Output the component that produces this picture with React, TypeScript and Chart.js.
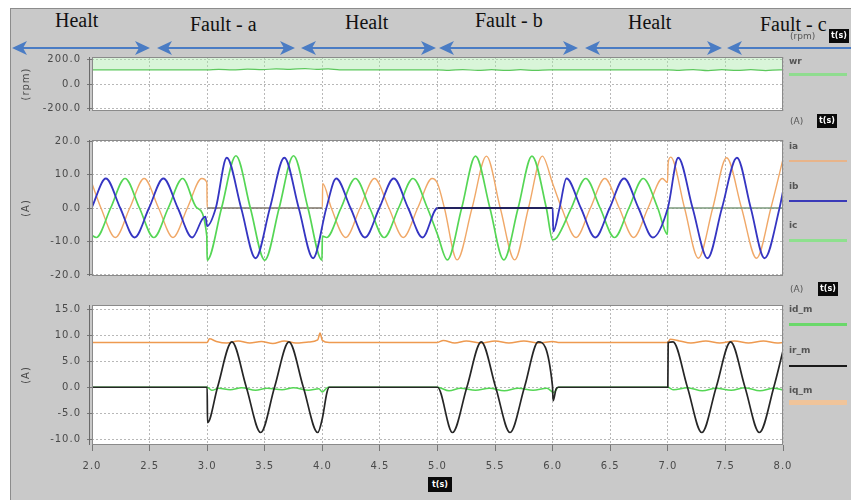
import React, { useEffect, useRef } from "react";
import { Chart, registerables } from "chart.js";

Chart.register(...registerables);

type Pt = [number, number];

// ---------------- data ----------------
const X_MIN = 2.0;
const X_MAX = 8.0;
const X_STEP = 0.5;

const sectionLabels = ["Healt", "Fault - a", "Healt", "Fault - b", "Healt", "Fault - c"];

const wrTicks = [-200, 0, 200];
const iabcTicks = [-20, -10, 0, 10, 20];
const dqTicks = [-10, -5, 0, 5, 10, 15];

// rotor speed (rpm)
const wr: Pt[] = [
  [2.0, 114], [3.0, 114], [3.1, 117], [3.22, 113], [3.35, 119], [3.48, 116], [3.6, 121], [3.72, 118],
  [3.85, 124], [3.95, 117], [4.05, 121], [4.15, 114], [5.0, 114], [5.1, 110], [5.22, 116], [5.35, 109],
  [5.47, 115], [5.6, 109], [5.72, 115], [5.85, 109], [5.97, 114], [7.0, 114], [7.1, 110], [7.22, 116],
  [7.35, 108], [7.47, 115], [7.6, 109], [7.72, 115], [7.85, 108], [7.97, 114], [8.0, 113],
];

// phase currents (A)
const ia: Pt[] = [
  [2.0, 7.3], [2.078, 0], [2.203, -8.8], [2.328, 0], [2.453, 8.8], [2.578, 0], [2.703, -8.8], [2.828, 0],
  [2.953, 8.8], [2.997, 7.6], [3.0, 0], [4.0, 0], [4.003, 7.3], [4.078, 0], [4.203, -8.8], [4.328, 0],
  [4.453, 8.8], [4.578, 0], [4.703, -8.8], [4.828, 0], [4.953, 8.8], [5.0, 7.3], [5.06, 0], [5.17, -15.5],
  [5.3, 0], [5.425, 15.5], [5.545, 0], [5.67, -15.5], [5.79, 0], [5.91, 15.5], [6.0, 7.3], [6.078, 0],
  [6.203, -8.8], [6.328, 0], [6.453, 8.8], [6.578, 0], [6.703, -8.8], [6.828, 0], [6.953, 8.8], [6.997, 7.6],
  [7.003, 13.5], [7.025, 15.2], [7.145, 0], [7.265, -15.0], [7.39, 0], [7.51, 15.0], [7.64, 0], [7.77, -15.0],
  [7.895, 0], [8.0, 14.6],
];

const ib: Pt[] = [
  [2.0, 0.3], [2.12, 8.8], [2.245, 0], [2.37, -8.8], [2.495, 0], [2.62, 8.8], [2.745, 0], [2.87, -8.8],
  [2.96, -3.2], [2.985, -2.6], [3.0, -5.4], [3.075, 0], [3.17, 15.0], [3.295, 0], [3.42, -15.0], [3.545, 0],
  [3.67, 15.0], [3.795, 0], [3.92, -15.0], [4.035, 0], [4.12, 8.8], [4.245, 0], [4.37, -8.8], [4.495, 0],
  [4.62, 8.8], [4.745, 0], [4.87, -8.8], [5.0, 0], [6.0, 0], [6.005, -7.0], [6.06, 0], [6.12, 8.8],
  [6.245, 0], [6.37, -8.8], [6.495, 0], [6.62, 8.8], [6.745, 0], [6.87, -8.8], [7.0, 0], [7.09, 15.0],
  [7.215, 0], [7.345, -15.0], [7.47, 0], [7.6, 15.0], [7.72, 0], [7.84, -15.0], [7.97, 0], [8.0, 5.0],
];

const ic: Pt[] = [
  [2.0, -8.2], [2.037, -8.8], [2.162, 0], [2.287, 8.8], [2.412, 0], [2.537, -8.8], [2.662, 0], [2.787, 8.8],
  [2.912, 0], [2.997, -8.4], [3.0, -15.6], [3.125, 0], [3.25, 15.6], [3.375, 0], [3.5, -15.6], [3.625, 0],
  [3.75, 15.6], [3.875, 0], [3.997, -15.6], [4.0, -8.4], [4.037, -8.8], [4.162, 0], [4.287, 8.8], [4.412, 0],
  [4.537, -8.8], [4.662, 0], [4.787, 8.8], [4.912, 0], [5.0, -7.9], [5.085, -15.5], [5.21, 0], [5.33, 15.5],
  [5.455, 0], [5.575, -15.5], [5.7, 0], [5.82, 15.5], [5.945, 0], [6.0, -9.5], [6.037, -8.8], [6.162, 0],
  [6.287, 8.8], [6.412, 0], [6.537, -8.8], [6.662, 0], [6.787, 8.8], [6.912, 0], [6.997, -7.9], [7.0, 0],
  [8.0, 0],
];

// d/q / residual currents (A)
const idm: Pt[] = [
  [2.0, 0], [3.0, 0], [3.04, -0.6], [3.1, -0.2], [3.2, -0.5], [3.3, -0.1], [3.42, -0.6], [3.52, -0.2],
  [3.65, -0.5], [3.75, -0.1], [3.88, -0.6], [3.97, -0.3], [4.0, -0.9], [4.05, 0], [5.0, 0], [5.1, -0.7],
  [5.2, -0.2], [5.33, -0.6], [5.45, -0.2], [5.58, -0.7], [5.7, -0.2], [5.83, -0.6], [5.95, -0.2], [6.01, -1.0],
  [6.05, 0], [7.0, 0], [7.05, -0.5], [7.17, -0.1], [7.3, -0.7], [7.42, -0.2], [7.55, -0.6], [7.67, -0.1],
  [7.8, -0.7], [7.92, -0.2], [8.0, -0.5],
];

const irm: Pt[] = [
  [2.0, 0], [3.0, 0], [3.003, -6.8], [3.09, 0], [3.215, 8.7], [3.34, 0], [3.465, -8.7], [3.585, 0],
  [3.71, 8.7], [3.835, 0], [3.96, -8.7], [4.0, -6.0], [4.04, -1.0], [4.06, 0], [5.0, 0], [5.13, -8.7],
  [5.255, 0], [5.38, 8.7], [5.505, 0], [5.63, -8.7], [5.755, 0], [5.875, 8.7], [5.998, 0.3], [6.004, -2.6],
  [6.03, -0.3], [6.05, 0], [7.0, 0], [7.003, 8.6], [7.045, 8.7], [7.17, 0], [7.295, -8.7], [7.42, 0],
  [7.545, 8.7], [7.67, 0], [7.795, -8.7], [7.92, 0], [8.0, 7.0],
];

const iqm: Pt[] = [
  [2.0, 8.6], [3.0, 8.6], [3.02, 9.3], [3.08, 8.8], [3.17, 8.5], [3.27, 8.9], [3.37, 8.5], [3.47, 8.8],
  [3.57, 8.4], [3.67, 8.9], [3.77, 8.5], [3.88, 8.7], [3.96, 9.1], [3.98, 10.4], [4.0, 9.0], [4.06, 8.6],
  [5.0, 8.6], [5.05, 9.0], [5.15, 8.5], [5.25, 8.9], [5.38, 8.5], [5.5, 8.9], [5.62, 8.5], [5.75, 8.9],
  [5.88, 8.5], [6.0, 8.8], [6.06, 8.6], [7.0, 8.6], [7.02, 9.2], [7.1, 8.9], [7.2, 8.5], [7.33, 8.9],
  [7.45, 8.5], [7.58, 8.9], [7.7, 8.5], [7.83, 8.9], [7.95, 8.5], [8.0, 8.6],
];

// ---------------- styling / layout ----------------
const C_ORANGE = "#f0a868";
const C_BLUE = "#3535c2";
const C_GREEN = "#55d655";
const C_BLACK = "#262626";
const TICK_FONT = { family: "'DejaVu Sans', sans-serif", size: 10 };

const toXY = (p: Pt[]) => p.map(([x, y]) => ({ x, y }));

const zeroSeg = (dark: string) => ({
  borderColor: (c: any) => (c.p0.parsed.y === 0 && c.p1.parsed.y === 0 ? dark : undefined),
});

const panelPlugin = {
  id: "panelBg",
  beforeDraw(chart: any) {
    const { ctx, chartArea: a } = chart;
    try {
      (ctx as any).letterSpacing = "1px";
    } catch (e) {}
    ctx.save();
    ctx.fillStyle = "#ffffff";
    ctx.fillRect(a.left, a.top, a.right - a.left, a.bottom - a.top);
    ctx.restore();
  },
  afterDraw(chart: any) {
    const { ctx, chartArea: a } = chart;
    ctx.save();
    ctx.strokeStyle = "#8a8a8a";
    ctx.lineWidth = 1;
    ctx.strokeRect(a.left + 0.5, a.top + 0.5, a.right - a.left - 1, a.bottom - a.top - 1);
    ctx.strokeStyle = "#6a6a6a";
    ctx.beginPath();
    ctx.moveTo(a.left - 2.5, a.top);
    ctx.lineTo(a.left - 2.5, a.bottom);
    ctx.stroke();
    ctx.restore();
  },
};

interface PanelSpec {
  top: number;
  height: number;
  padTop: number;
  padBottom: number;
  yMin: number;
  yMax: number;
  yTicks: number[];
  yTitle: string;
  showX: boolean;
  datasets: any[];
}

function PanelChart({ spec }: { spec: PanelSpec }) {
  const ref = useRef<HTMLCanvasElement>(null);
  useEffect(() => {
    if (!ref.current) return;
    const chart = new Chart(ref.current, {
      type: "line",
      data: { datasets: spec.datasets },
      options: {
        animation: false,
        responsive: false,
        maintainAspectRatio: false,
        layout: { padding: { top: spec.padTop, bottom: spec.padBottom, left: 0, right: 68 } },
        plugins: { legend: { display: false }, tooltip: { enabled: false } },
        elements: { point: { radius: 0 }, line: { cubicInterpolationMode: "monotone" } },
        scales: {
          x: {
            type: "linear",
            min: X_MIN,
            max: X_MAX,
            ticks: {
              stepSize: X_STEP,
              display: spec.showX,
              autoSkip: false,
              maxRotation: 0,
              padding: 9,
              color: "#4a4a4a",
              font: TICK_FONT,
              callback: (v: any) => Number(v).toFixed(1),
            },
            grid: {
              color: "#b8b8b8",
              tickColor: "#777",
              drawTicks: spec.showX,
              tickLength: spec.showX ? 6 : 0,
            },
            border: { display: false, dash: [2, 2] },
            afterFit: (a: any) => {
              a.height = spec.showX ? 40 : 0;
            },
          },
          y: {
            min: spec.yMin,
            max: spec.yMax,
            afterBuildTicks: (a: any) => {
              a.ticks = spec.yTicks.map((v) => ({ value: v }));
            },
            ticks: {
              color: "#4a4a4a",
              font: TICK_FONT,
              padding: 6,
              callback: (v: any) => Number(v).toFixed(1),
            },
            grid: { color: "#b8b8b8", tickColor: "#777", tickLength: 5 },
            border: { display: false, dash: [2, 2] },
            title: {
              display: true,
              text: spec.yTitle,
              color: "#4a4a4a",
              font: { family: "'DejaVu Sans', sans-serif", size: 10 },
              padding: { top: 10, bottom: 0 },
            },
            afterFit: (a: any) => {
              a.width = 82;
            },
          },
        },
      } as any,
      plugins: [panelPlugin],
    });
    return () => chart.destroy();
  }, []);
  return (
    <canvas
      ref={ref}
      width={841}
      height={spec.height}
      style={{ position: "absolute", left: 10, top: spec.top, width: 841, height: spec.height }}
    />
  );
}

const lineDs = (label: string, pts: Pt[], color: string, width: number, order: number, extra: any = {}) => ({
  label,
  data: toXY(pts),
  borderColor: color,
  backgroundColor: color,
  borderWidth: width,
  pointRadius: 0,
  fill: false,
  order,
  ...extra,
});

const topSpec: PanelSpec = {
  top: 45,
  height: 78,
  padTop: 8,
  padBottom: 8,
  yMin: -217,
  yMax: 217,
  yTicks: wrTicks,
  yTitle: "(rpm)",
  showX: false,
  datasets: [
    lineDs("wr", wr, "#5cc85c", 1.2, 0, { fill: "end", backgroundColor: "rgba(170,232,170,0.45)" }),
  ],
};

const midSpec: PanelSpec = {
  top: 128,
  height: 160,
  padTop: 9,
  padBottom: 9,
  yMin: -20.3,
  yMax: 20.3,
  yTicks: iabcTicks,
  yTitle: "(A)",
  showX: false,
  datasets: [
    lineDs("ia", ia, C_ORANGE, 1.4, 2, { segment: zeroSeg("#7d7468") }),
    lineDs("ib", ib, C_BLUE, 1.8, 0, { segment: zeroSeg("#22225e") }),
    lineDs("ic", ic, C_GREEN, 1.7, 1, { segment: zeroSeg("#7c9a7c") }),
  ],
};

const botSpec: PanelSpec = {
  top: 293,
  height: 192,
  padTop: 9,
  padBottom: 0,
  yMin: -11.1,
  yMax: 15.8,
  yTicks: dqTicks,
  yTitle: "(A)",
  showX: true,
  datasets: [
    lineDs("id_m", idm, C_GREEN, 1.5, 1),
    lineDs("ir_m", irm, C_BLACK, 1.7, 0),
    lineDs("iq_m", iqm, "#ee9a50", 1.5, 2),
  ],
};

// header layout (positions only)
const headerPos = [
  { left: 55, top: 10 },
  { left: 190, top: 14 },
  { left: 345, top: 12 },
  { left: 475, top: 10 },
  { left: 628, top: 12 },
  { left: 760, top: 14 },
];
const arrowSpans: { x1: number; x2: number; right: boolean }[] = [
  { x1: 12, x2: 150, right: true },
  { x1: 157, x2: 295, right: true },
  { x1: 301, x2: 436, right: true },
  { x1: 439, x2: 578, right: true },
  { x1: 585, x2: 722, right: true },
  { x1: 727, x2: 860, right: false },
];
const ARROW_Y = 48;
const ARROW_COLOR = "#4a7cc4";

const legendItems = [
  { label: "wr", color: "#8fdc8f", textTop: 56, lineTop: 74, w: 3 },
  { label: "ia", color: "#e8b48a", textTop: 141, lineTop: 161, w: 2 },
  { label: "ib", color: "#3a3ab8", textTop: 181, lineTop: 201, w: 2 },
  { label: "ic", color: "#8ee08e", textTop: 220, lineTop: 240, w: 3 },
  { label: "id_m", color: "#6ad86a", textTop: 304, lineTop: 324, w: 3 },
  { label: "ir_m", color: "#1a1a1a", textTop: 345, lineTop: 366, w: 2 },
  { label: "iq_m", color: "#f0c49a", textTop: 385, lineTop: 402, w: 5 },
];

const unitRows = [
  { unit: "(rpm)", textLeft: 790, top: 31, boxLeft: 829 },
  { unit: "(A)", textLeft: 790, top: 116, boxLeft: 817 },
  { unit: "(A)", textLeft: 790, top: 284, boxLeft: 818 },
];

const smallFont = "'DejaVu Sans', sans-serif";

function Box({ left, top, w, h, text }: { left: number; top: number; w: number; h: number; text: string }) {
  return (
    <div
      style={{
        position: "absolute",
        left,
        top,
        width: w,
        height: h,
        background: "#0a0a0a",
        color: "#fff",
        fontFamily: smallFont,
        fontSize: 8,
        fontWeight: "bold",
        lineHeight: h + "px",
        textAlign: "center",
      }}
    >
      {text}
    </div>
  );
}

export default function App() {
  return (
    <div
      style={{
        position: "fixed",
        left: 0,
        top: 0,
        width: 851,
        height: 500,
        background: "#ffffff",
        overflow: "hidden",
      }}
    >
      <div
        style={{
          position: "absolute",
          left: 10,
          top: 8,
          width: 841,
          height: 492,
          background: "#c9c9c9",
          borderTop: "1px solid #8c8c8c",
          borderLeft: "1px solid #8c8c8c",
          boxSizing: "border-box",
        }}
      />
      <PanelChart spec={topSpec} />
      <PanelChart spec={midSpec} />
      <PanelChart spec={botSpec} />

      {sectionLabels.map((t, i) => (
        <div
          key={i}
          style={{
            position: "absolute",
            left: headerPos[i].left,
            top: headerPos[i].top,
            fontFamily: "'Liberation Serif', 'Times New Roman', serif",
            fontSize: 20,
            lineHeight: "20px",
            color: "#111",
            whiteSpace: "nowrap",
          }}
        >
          {t}
        </div>
      ))}

      <svg
        width={851}
        height={500}
        style={{ position: "absolute", left: 0, top: 0, pointerEvents: "none" }}
      >
        {arrowSpans.map((s, i) => (
          <g key={i}>
            <line
              x1={s.x1 + 10}
              y1={ARROW_Y}
              x2={s.right ? s.x2 - 10 : s.x2}
              y2={ARROW_Y}
              stroke={ARROW_COLOR}
              strokeWidth={2}
            />
            <polygon
              points={`${s.x1},${ARROW_Y} ${s.x1 + 15},${ARROW_Y - 7} ${s.x1 + 11},${ARROW_Y} ${s.x1 + 15},${ARROW_Y + 7}`}
              fill={ARROW_COLOR}
            />
            {s.right && (
              <polygon
                points={`${s.x2},${ARROW_Y} ${s.x2 - 15},${ARROW_Y - 7} ${s.x2 - 11},${ARROW_Y} ${s.x2 - 15},${ARROW_Y + 7}`}
                fill={ARROW_COLOR}
              />
            )}
          </g>
        ))}
      </svg>

      {unitRows.map((u, i) => (
        <React.Fragment key={i}>
          <div
            style={{
              position: "absolute",
              left: u.textLeft,
              top: u.top,
              fontFamily: smallFont,
              fontSize: 9,
              color: "#555",
              lineHeight: "11px",
            }}
          >
            {u.unit}
          </div>
          <Box left={u.boxLeft} top={u.top - 2} w={20} h={14} text="t(s)" />
        </React.Fragment>
      ))}

      {legendItems.map((l, i) => (
        <React.Fragment key={i}>
          <div
            style={{
              position: "absolute",
              left: 789,
              top: l.textTop,
              fontFamily: smallFont,
              fontSize: 9,
              fontWeight: "bold",
              color: "#555",
              lineHeight: "11px",
            }}
          >
            {l.label}
          </div>
          <div
            style={{
              position: "absolute",
              left: 789,
              top: l.lineTop - Math.floor(l.w / 2),
              width: 58,
              height: l.w,
              background: l.color,
            }}
          />
        </React.Fragment>
      ))}

      <Box left={428} top={477} w={24} h={15} text="t(s)" />
    </div>
  );
}
